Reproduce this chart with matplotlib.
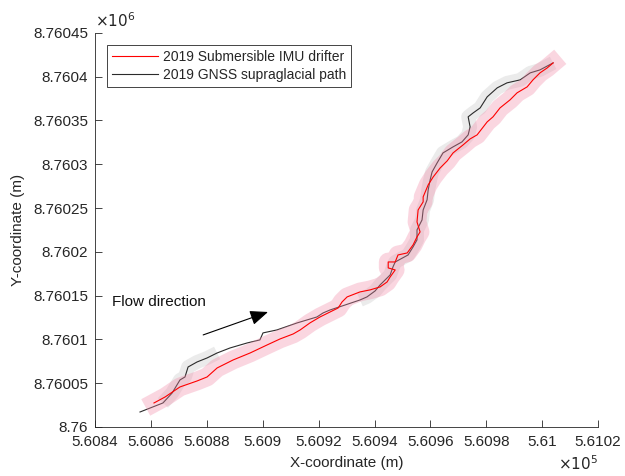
import matplotlib.pyplot as plt
import numpy as np

plt.rcParams['font.family'] = ['Liberation Sans', 'DejaVu Sans']

# --- drifter track (UTM easting / northing, m) ---
imu_x = np.array([560861.1, 560865.1, 560870.4, 560876.5, 560880.1, 560883.7, 560889.4,
                  560895.5, 560901.6, 560906.2, 560910.9, 560913.4, 560916.9, 560920.5,
                  560924.1, 560927.0, 560928.4, 560930.2, 560934.8, 560938.4, 560942.0,
                  560944.5, 560945.6, 560947.4, 560944.9, 560944.9, 560947.4, 560948.4,
                  560951.7, 560953.8, 560955.2, 560956.3, 560955.2, 560955.6, 560957.4,
                  560957.4, 560959.2, 560961.0, 560963.5, 560966.0, 560968.1, 560971.7,
                  560974.2, 560976.7, 560980.3, 560982.4, 560984.9, 560988.5, 560991.0,
                  560994.6, 560996.7, 560999.2, 561001.8, 561003.9])
imu_y = np.array([8760027.4, 8760034.3, 8760045.7, 8760052.5, 8760057.1, 8760067.4, 8760076.5,
                  8760084.5, 8760093.7, 8760100.5, 8760106.2, 8760110.8, 8760118.8, 8760125.6,
                  8760131.3, 8760135.9, 8760142.8, 8760148.5, 8760154.2, 8760156.5, 8760159.9,
                  8760165.6, 8760171.3, 8760179.3, 8760181.6, 8760188.4, 8760188.4, 8760196.4,
                  8760198.7, 8760207.9, 8760217.0, 8760222.7, 8760234.1, 8760247.8, 8760257.0,
                  8760262.7, 8760276.4, 8760285.5, 8760295.8, 8760303.8, 8760312.9, 8760322.1,
                  8760328.9, 8760333.5, 8760348.3, 8760354.1, 8760364.3, 8760373.5, 8760381.5,
                  8760388.3, 8760396.3, 8760404.3, 8760410.0, 8760415.7])

# --- GNSS surface path ---
gnss_x = np.array([560856.1, 560864.3, 560867.6, 560870.4, 560872.2, 560873.3, 560876.5,
                   560880.1, 560883.7, 560888.3, 560894.4, 560899.0, 560900.1, 560905.1,
                   560912.3, 560919.4, 560921.6, 560924.1, 560929.5, 560934.8, 560937.3,
                   560940.2, 560942.0, 560945.6, 560946.6, 560947.4, 560952.0, 560953.8,
                   560955.2, 560955.2, 560957.0, 560957.4, 560958.8, 560959.2, 560959.9,
                   560960.6, 560962.4, 560964.5, 560968.1, 560971.3, 560973.5, 560974.2,
                   560973.5, 560975.3, 560977.8, 560980.3, 560983.9, 560987.4, 560992.1,
                   560995.7, 560999.2, 561003.9])
gnss_y = np.array([8760017.1, 8760027.4, 8760038.8, 8760053.7, 8760057.1, 8760068.5, 8760074.2,
                   8760078.8, 8760084.5, 8760090.2, 8760095.9, 8760099.4, 8760107.4, 8760110.8,
                   8760118.8, 8760125.6, 8760130.2, 8760133.6, 8760139.3, 8760145.0, 8760148.5,
                   8760155.3, 8760162.2, 8760173.6, 8760182.7, 8760188.4, 8760196.4, 8760205.6,
                   8760213.6, 8760225.0, 8760236.4, 8760247.8, 8760259.3, 8760270.7, 8760282.1,
                   8760291.2, 8760301.5, 8760312.9, 8760319.8, 8760325.5, 8760333.5, 8760342.6,
                   8760354.1, 8760358.6, 8760364.3, 8760376.9, 8760387.2, 8760392.9, 8760396.3,
                   8760404.3, 8760407.7, 8760415.7])

xticks = [560840, 560860, 560880, 560900, 560920, 560940, 560960, 560980, 561000, 561020]
xtick_labels = ['5.6084', '5.6086', '5.6088', '5.609', '5.6092', '5.6094',
                '5.6096', '5.6098', '5.61', '5.6102']
yticks = [8760000, 8760050, 8760100, 8760150, 8760200, 8760250, 8760300, 8760350,
          8760400, 8760450]
ytick_labels = ['8.76', '8.76005', '8.7601', '8.76015', '8.7602', '8.76025',
                '8.7603', '8.76035', '8.7604', '8.76045']

axc = '#262626'

fig = plt.figure(figsize=(6.25, 4.76), dpi=100)
ax = fig.add_axes([0.152, 0.103, 0.805, 0.828])

# GNSS envelope only where the fix quality drops (start kink and upper reach)
for sl in [slice(1, 9), slice(19, None)]:
    ax.plot(gnss_x[sl], gnss_y[sl], color='#ebebeb', lw=10,
            solid_capstyle='butt', solid_joinstyle='round', zorder=1)
ax.plot(gnss_x, gnss_y, color='#2b2b2b', lw=0.8, zorder=2,
        label='2019 GNSS supraglacial path')
ax.plot(imu_x, imu_y, color='#f28aa8', lw=13.5, alpha=0.35,
        solid_capstyle='projecting', solid_joinstyle='round', zorder=3)
ax.plot(imu_x, imu_y, color='red', lw=0.8, zorder=4,
        label='2019 Submersible IMU drifter')

ax.set_xlim(560840, 561020)
ax.set_ylim(8760000, 8760450)
ax.set_xticks(xticks, xtick_labels)
ax.set_yticks(yticks, ytick_labels)
ax.tick_params(direction='in', length=5, width=0.6, colors=axc, labelsize=11)
ax.tick_params(axis='x', pad=6)
ax.tick_params(axis='y', pad=5)
for s in ['top', 'right']:
    ax.spines[s].set_visible(False)
for s in ['left', 'bottom']:
    ax.spines[s].set_color(axc)
    ax.spines[s].set_linewidth(0.6)

ax.set_xlabel('X-coordinate (m)', fontsize=11, color=axc, labelpad=5)
ax.set_ylabel('Y-coordinate (m)', fontsize=11, color=axc, labelpad=6)

ax.text(1.0, -0.109, r'$\times10^{5}$', transform=ax.transAxes, ha='right',
        va='baseline', fontsize=11, color=axc)
ax.text(0.0, 1.015, r'$\times10^{6}$', transform=ax.transAxes, ha='left',
        va='baseline', fontsize=11, color=axc)

# flow direction marker
ax.text(560846.1, 8760142.8, 'Flow direction', fontsize=11, color='#111111',
        va='center', ha='left')
ax.annotate('', xy=(560901.9, 8760131.3), xytext=(560878.7, 8760105.1),
            arrowprops=dict(arrowstyle='-|>,head_length=1.1,head_width=0.45',
                            color='black', lw=0.8, shrinkA=0, shrinkB=0))

handles, labels = ax.get_legend_handles_labels()
leg = ax.legend(handles[::-1], labels[::-1], loc='upper left',
                bbox_to_anchor=(0.024, 0.9695), borderaxespad=0, fontsize=10,
                fancybox=False, framealpha=1, edgecolor=axc, handlelength=3.3,
                handletextpad=0.4, labelspacing=0.3, borderpad=0.35)
leg.get_frame().set_linewidth(0.6)
for t in leg.get_texts():
    t.set_color(axc)

fig.savefig('out.png', dpi=100)
plt.close(fig)
